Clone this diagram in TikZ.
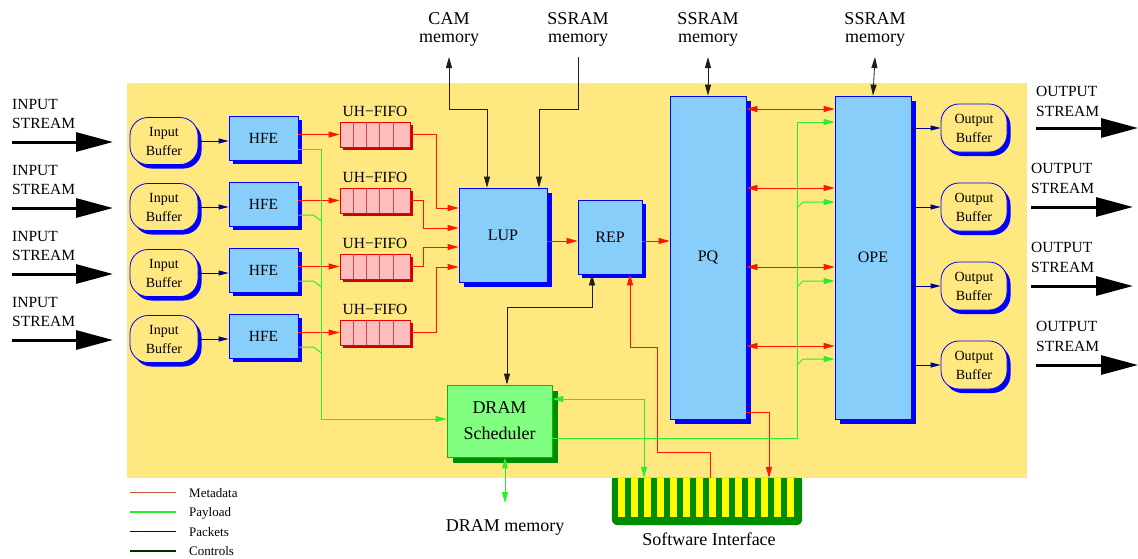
\documentclass[tikz,border=0pt]{standalone}
\usepackage{fontspec}
\setmainfont{Liberation Serif}
\usetikzlibrary{arrows.meta,shadows,calc}
\definecolor{bgy}{RGB}{255,232,128}
\definecolor{sky}{RGB}{135,206,250}
\definecolor{pinkf}{RGB}{255,190,190}
\definecolor{fifored}{RGB}{235,0,0}
\definecolor{fifoline}{RGB}{210,70,70}
\definecolor{fifoshadow}{RGB}{205,0,0}
\definecolor{lgreen}{RGB}{128,255,128}
\definecolor{dgreen}{RGB}{0,140,0}
\definecolor{dramborder}{RGB}{0,190,0}
\definecolor{paygreen}{RGB}{40,240,40}
\definecolor{navyc}{RGB}{0,0,140}
\definecolor{ctlc}{RGB}{30,30,20}
\definecolor{metac}{RGB}{255,20,0}
\definecolor{legmeta}{RGB}{195,85,55}
\definecolor{legctl}{RGB}{0,45,0}
\definecolor{swyellow}{RGB}{255,255,0}
\newcommand\myfs[2]{\fontsize{#1}{#2}\selectfont}
\begin{document}
\begin{tikzpicture}[x=1pt,y=-1pt,
  >={Triangle[length=11pt,width=6pt]},
  blk/.style={draw=blue, fill=sky, line width=0.8pt, inner sep=0pt, font=\myfs{16}{19},
    general shadow={fill=blue, shadow xshift=#1, shadow yshift=-#1}},
  blk/.default=4pt,
  buf/.style={draw=blue, fill=bgy, line width=0.8pt, rounded corners=18pt, minimum height=47pt,
    inner sep=0pt, align=center, font=\myfs{14}{19},
    general shadow={fill=blue, shadow xshift=3.5pt, shadow yshift=-4pt}},
  fifo/.style={draw=fifored, fill=pinkf, line width=0.8pt, minimum width=70pt, minimum height=25pt,
    inner sep=0pt, general shadow={fill=fifoshadow, shadow xshift=3pt, shadow yshift=-3pt}},
  dramst/.style={draw=dramborder, fill=lgreen, line width=0.8pt, inner sep=0pt, align=center,
    font=\myfs{18}{26}, general shadow={fill=dgreen, shadow xshift=6pt, shadow yshift=-6pt}},
  fifolbl/.style={font=\myfs{15.5}{18}, anchor=base, inner sep=0pt},
  meta/.style={draw=metac, line width=0.8pt},
  pay/.style={draw=paygreen, line width=1pt},
  pkt/.style={draw=navyc, line width=0.8pt, >={Triangle[length=10pt,width=5pt]}},
  ctl/.style={draw=ctlc, line width=0.8pt},
  big/.style={draw=black, line width=3pt, -{Triangle[length=37pt,width=19pt]}},
  lbl/.style={inner sep=0pt, align=center, font=\myfs{18}{18}},
  streamlbl/.style={inner sep=0pt, align=left, anchor=west, font=\myfs{15.5}{19.5}},
  leglbl/.style={anchor=base west, inner sep=0pt, font=\myfs{13}{13}},
]
\fill[white] (0,0) rectangle (1138,558);
\useasboundingbox (0,0) rectangle (1138,558);
\fill[bgy] (127,83) rectangle (1027,478);

% top memory labels
\node[lbl] (camlbl) at (449,29.5) {CAM\\memory};
\node[lbl] (ss1lbl) at (578,29.5) {SSRAM\\memory};
\node[lbl] (ss2lbl) at (708,29.5) {SSRAM\\memory};
\node[lbl] (ss3lbl) at (875,29.5) {SSRAM\\memory};
\coordinate (camend) at (449,57);
\coordinate (ss1end) at (578,57);
\coordinate (ss2end) at (708,57);
\coordinate (ss3end) at (875,57);
\coordinate (dmemend) at (505,503);

% input side
\foreach \i [evaluate=\i as \dy using 66*(\i-1)] in {1,...,4} {
  \node[streamlbl] (inl\i) at (12,114+\dy) {INPUT\\STREAM};
  \coordinate (ia\i) at (12,142+\dy);
  \coordinate (ib\i) at (113,142+\dy);
  \draw[big] (ia\i) -- (ib\i);
  \node[buf, minimum width=68pt] (in\i) at (164,141+\dy) {Input\\Buffer};
  \node[blk, minimum width=69pt, minimum height=44pt, font=\myfs{15.5}{18}] (hfe\i) at (263.5,138+\dy) {HFE};
  \node[fifo] (fifo\i) at (375,134.5+\dy) {};
  \foreach \d in {13.3,26.7,40,53.3}
    \draw[fifoline, line width=0.8pt] ($(fifo\i.north west)+(\d,0)$) -- ($(fifo\i.south west)+(\d,0)$);
  \node[fifolbl] (fl\i) at (375,116+\dy) {UH−FIFO};
  \draw[pkt,->] (in\i.east) -- (in\i.east -| hfe\i.west);
  \draw[meta,->] (hfe\i.east |- fifo\i.west) -- (fifo\i.west);
}

% main blocks
\node[blk=5pt, minimum width=88pt, minimum height=94pt] (lup) at (503,235) {LUP};
\node[blk=4pt, minimum width=64pt, minimum height=74pt] (rep) at (610,237) {REP};
\node[blk=5pt, minimum width=76pt, minimum height=323pt] (pq) at (708,257.5) {PQ};
\node[blk=5pt, minimum width=76pt, minimum height=323pt] (ope) at (873,257.5) {OPE};
\node[dramst, minimum width=105pt, minimum height=72pt] (dram) at (499.5,421) {DRAM\\Scheduler};

% output side
\foreach \i/\yy/\ly/\lx in {1/128/101.5/1036, 2/207/178.5/1031, 3/286/257.5/1031, 4/365/336.5/1036} {
  \node[buf, minimum width=66pt, minimum height=48pt] (out\i) at (974,\yy) {Output\\Buffer};
  \node[streamlbl, font=\myfs{15.5}{20}] (outl\i) at (\lx,\ly) {OUTPUT\\STREAM};
  \coordinate (oa\i) at (\lx,\yy);
  \coordinate (ob\i) at (\lx+102,\yy);
  \draw[big] (oa\i) -- (ob\i);
  \draw[pkt,->] (ope.east |- out\i.west) -- (out\i.west);
}

% software interface
\node[minimum width=190pt, minimum height=47pt, inner sep=0pt] (sw) at (707,501.5) {};
\fill[dgreen, rounded corners=6pt] (sw.north west) rectangle (sw.south east);
\fill[dgreen] (sw.north west) rectangle (sw.east);
\foreach \k in {0,...,13}
  \fill[swyellow] ($(sw.north west)+(6.3+13*\k,0)$) rectangle ++(6.5,39);

% labels
\node[anchor=base, inner sep=0pt, font=\myfs{18}{18}] (dmemlbl) at (505,531) {DRAM memory};
\node[anchor=base, inner sep=0pt, font=\myfs{18}{18}] (swlbl) at (709,545) {Software Interface};

% FIFO -> LUP
\draw[meta,->] (fifo1.east) -| (436,208) -- (lup.west |- 436,208);
\draw[meta,->] (fifo2.east) -| (423,228) -- (lup.west |- 423,228);
\draw[meta,->] (fifo3.east) -| (423,247) -- (lup.west |- 423,247);
\draw[meta,->] (fifo4.east) -| (436,267) -- (lup.west |- 436,267);

% LUP -> REP -> PQ
\draw[meta,->] (lup.east |- 0,241) -- (rep.west |- 0,241);
\draw[meta,->] (rep.east |- 0,241) -- (pq.west |- 0,241);

% PQ <-> OPE
\foreach \yy in {109,188,267,346}
  \draw[meta,<->] (pq.east |- 0,\yy) -- (ope.west |- 0,\yy);

% memories
\draw[ctl,<->] (camend) |- (487,109) -- (lup.north -| 487,0);
\draw[ctl,->] (ss1end) |- (539,109) -- (lup.north -| 539,0);
\draw[ctl,<->] (ss2end) -- (pq.north);
\draw[ctl,<->] (ss3end) -- (ope.north);

% REP <-> DRAM scheduler
\draw[ctl,<->] (rep.south -| 592,0) |- (507,307) -- (dram.north -| 507,0);

% software interface links
\draw[meta,->] (sw.north -| 710,0) |- (657,452) |- (630,347) -- (rep.south -| 630,0);
\draw[meta,->] (pq.east |- 0,412) -| (sw.north -| 769,0);
\draw[pay,<->] (dram.east |- 0,399) -| (sw.north -| 644,0);
\draw[pay,<->] (dram.south -| 505,0) -- (dmemend);

% payload from HFEs to DRAM scheduler
\draw[pay,->] ([yshift=-11pt]hfe1.east) -| (321,419) -- (dram.west |- 321,419);
\foreach \i in {2,3,4}
  \draw[pay] ([yshift=-11pt]hfe\i.east) -- ++(15,0) -- ++(8,6);

% payload from DRAM scheduler to OPE
\draw[pay,->] (dram.east |- 0,438) -| (797,122) -- (ope.west |- 797,122);
\foreach \yy in {202,281,359}
  \draw[pay,->] (797,\yy+6) -- (803,\yy) -- (ope.west |- 803,\yy);

% legend
\foreach \col/\txt [count=\j from 0] in {legmeta/Metadata, paygreen/Payload, navyc/Packets, legctl/Controls} {
  \draw[\col, line width=1.2pt] (130,492.5+19.5*\j) -- (176,492.5+19.5*\j);
  \node[leglbl] (leg\j) at (189,497+19.5*\j) {\txt};
}
\end{tikzpicture}
\end{document}
